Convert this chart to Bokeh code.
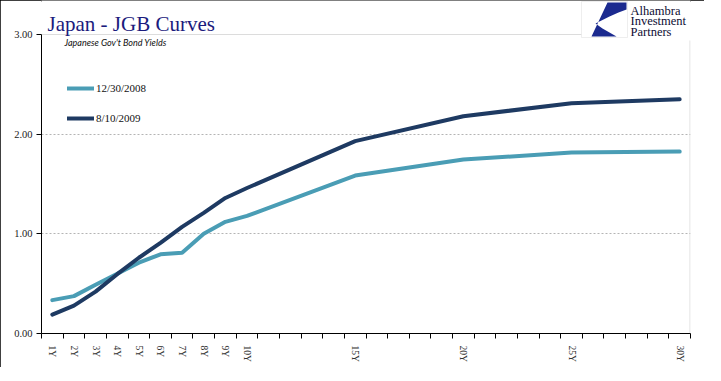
from bokeh.plotting import figure
from bokeh.models import (Range1d, FixedTicker, PrintfTickFormatter, Legend, LegendItem,
                          Label, PolyAnnotation, ColumnDataSource)
from bokeh.embed import file_html
from bokeh.resources import INLINE

# ---- data ----
years = [1, 2, 3, 4, 5, 6, 7, 8, 9, 10, 15, 20, 25, 30]
tenor_labels = ["1Y", "2Y", "3Y", "4Y", "5Y", "6Y", "7Y", "8Y", "9Y", "10Y", "15Y", "20Y", "25Y", "30Y"]
yield_2008 = [0.335, 0.375, 0.49, 0.60, 0.71, 0.795, 0.81, 1.00, 1.12, 1.18, 1.585, 1.745, 1.815, 1.825]
yield_2009 = [0.19, 0.28, 0.42, 0.595, 0.76, 0.91, 1.07, 1.21, 1.36, 1.46, 1.93, 2.18, 2.31, 2.35]
series_names = ["12/30/2008", "8/10/2009"]
y_ticks = [0, 1, 2, 3]

TEAL = "#4a9db5"
NAVY = "#1e3a62"

# geometry (page pixels): plot area left/right/top(3.00)/bottom(0.00)
PAGE_X, PAGE_Y = 8, 8
W, H = 704, 367
FL, FR, FT, FB = 49, 698, 42, 341
X0, X1, Y0, Y1 = 0.5, 30.5, 0.0, 3.0
PX_PER_Y = (FB - FT) / (Y1 - Y0)
Y_TOP = Y1 + (FT - PAGE_Y) / PX_PER_Y   # frame extends to figure top so decorations are not clipped


def dx(px):
    return X0 + (px - FL) * (X1 - X0) / (FR - FL)


def dy(py):
    return Y0 + (FB - py) / PX_PER_Y


p = figure(width=W, height=H, x_range=Range1d(X0, X1), y_range=Range1d(Y0, Y_TOP),
           output_backend="svg", toolbar_location=None,
           min_border_left=FL - PAGE_X, min_border_right=PAGE_X + W - FR,
           min_border_top=0, min_border_bottom=PAGE_Y + H - FB)
p.outline_line_color = None
p.background_fill_color = "white"
p.border_fill_color = "white"
p.styles = {"outline": "2px solid black", "outline-offset": "-2px"}

src = ColumnDataSource(dict(x=years, a=yield_2008, b=yield_2009))
r1 = p.line("x", "a", source=src, line_color=TEAL, line_width=4, line_join="round", line_cap="round")
r2 = p.line("x", "b", source=src, line_color=NAVY, line_width=4, line_join="round", line_cap="round")

# x axis
xa = p.xaxis[0]
xa.ticker = FixedTicker(ticks=years, minor_ticks=[v + 0.5 for v in range(0, 31)])
xa.major_label_overrides = {int(y): t for y, t in zip(years, tenor_labels)}
xa.major_label_orientation = "vertical"
xa.major_tick_out = 0
xa.major_tick_in = 0
xa.minor_tick_out = 5
xa.minor_tick_in = 0
xa.minor_tick_line_color = "black"
xa.axis_line_color = "black"
xa.major_label_text_font = "Liberation Serif"
xa.major_label_text_font_size = "9.5px"
xa.major_label_text_color = "#333333"
xa.major_label_standoff = 7

# y axis
ya = p.yaxis[0]
ya.bounds = (Y0, Y1)
ya.ticker = FixedTicker(ticks=y_ticks)
ya.formatter = PrintfTickFormatter(format="%.2f")
ya.major_tick_out = 5
ya.major_tick_in = 0
ya.minor_tick_line_color = None
ya.axis_line_color = "black"
ya.major_tick_line_color = "black"
ya.major_label_text_font = "Liberation Serif"
ya.major_label_text_font_size = "10.5px"
ya.major_label_text_color = "#222222"
ya.major_label_standoff = 4

p.xgrid.grid_line_color = None
p.ygrid.ticker = FixedTicker(ticks=[1, 2])
p.ygrid.grid_line_color = "#b4b4b4"
p.ygrid.grid_line_dash = "2 2"
p.ygrid.grid_line_width = 1

# plot-area top / right lines (top interrupted by logo)
p.add_layout(PolyAnnotation(xs=[dx(FL), dx(589)], ys=[Y1, Y1], fill_alpha=0,
                            line_color="#8c8c8c", line_width=1))
p.add_layout(PolyAnnotation(xs=[dx(FR - 0.5), dx(FR - 0.5)], ys=[dy(48), Y0], fill_alpha=0,
                            line_color="#8c8c8c", line_width=1))

# legend
legend = Legend(items=[LegendItem(label=series_names[0], renderers=[r1]),
                       LegendItem(label=series_names[1], renderers=[r2])],
                location=(26, 205), glyph_width=27, glyph_height=20, label_height=20,
                spacing=10, padding=0, margin=0, label_standoff=2,
                border_line_color=None, background_fill_alpha=0,
                label_text_font="Liberation Serif", label_text_font_size="11px",
                label_text_color="#111111")
p.add_layout(legend)

# titles
p.add_layout(Label(x=dx(55), y=dy(31), text="Japan - JGB Curves", text_font="Liberation Serif",
                   text_font_size="21px", text_color="#1b1b7d", text_baseline="alphabetic"))
p.add_layout(Label(x=dx(72), y=dy(50), text="Japanese Gov't Bond Yields", text_font="Lato",
                   text_font_style="italic", text_font_size="9px", text_color="#111111",
                   text_baseline="middle"))

# logo (decoration)
box_px = [(589, 9), (635, 9), (635, 45), (589, 45)]
p.add_layout(PolyAnnotation(xs=[dx(a) for a, b in box_px], ys=[dy(b) for a, b in box_px],
                            fill_color="white", fill_alpha=1, line_color="#c8c8c8", line_width=1))
swoosh_px = [(615, 10), (634, 10), (634, 17), (626, 20), (617, 24), (609, 28), (603, 31),
             (610, 36), (617, 40), (624, 44), (599, 44)]
p.add_layout(PolyAnnotation(xs=[dx(a) for a, b in swoosh_px], ys=[dy(b) for a, b in swoosh_px],
                            fill_color="#1b2a8f", fill_alpha=1, line_color=None))
for txt, base in [("Alhambra", 18.7), ("Investment", 28.7), ("Partners", 39)]:
    p.add_layout(Label(x=dx(638), y=dy(base), text=txt, text_font="Liberation Serif",
                       text_font_size="12.5px", text_color="#0d0d33", text_baseline="alphabetic"))

open("out.html", "w").write(file_html(p, INLINE))
